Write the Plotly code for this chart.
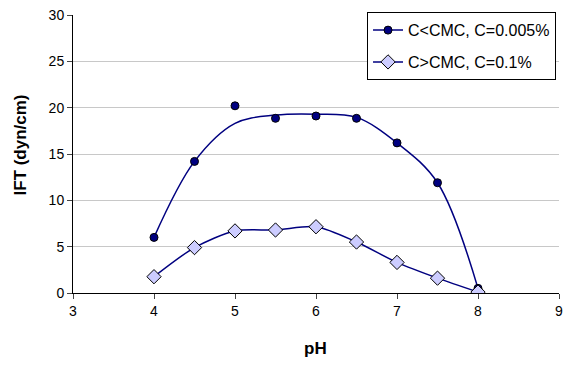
import plotly.graph_objects as go

ph = [4.0, 4.5, 5.0, 5.5, 6.0, 6.5, 7.0, 7.5, 8.0]
ift_low_c = [6.0, 14.2, 20.2, 18.85, 19.1, 18.85, 16.2, 11.9, 0.5]
# smoothed curve drawn for the low-concentration series
ift_low_c_curve = [6.0, 14.2, 18.3, 19.2, 19.3, 18.95, 16.2, 11.9, 0.5]
ift_high_c = [1.76, 4.9, 6.7, 6.8, 7.15, 5.5, 3.3, 1.6, 0.1]
name_low = "C<CMC, C=0.005%"
name_high = "C>CMC, C=0.1%"
x_ticks = [3, 4, 5, 6, 7, 8, 9]
y_ticks = [0, 5, 10, 15, 20, 25, 30]
x_title = "pH"
y_title = "IFT (dyn/cm)"

navy = "#000080"
font = "Liberation Sans, Arial, sans-serif"

fig = go.Figure()
# legend-only entry for the low-concentration series
fig.add_trace(go.Scatter(x=[None], y=[None], mode="lines+markers", name=name_low,
                         legendgroup="a",
                         line=dict(color=navy, width=1.5),
                         marker=dict(symbol="circle", size=8, color=navy,
                                     line=dict(color="black", width=1))))
fig.add_trace(go.Scatter(x=ph, y=ift_low_c_curve, mode="lines",
                         line=dict(color=navy, width=1.5, shape="spline", smoothing=1.0),
                         showlegend=False, legendgroup="a", hoverinfo="skip"))
fig.add_trace(go.Scatter(x=ph, y=ift_low_c, mode="markers", showlegend=False,
                         legendgroup="a",
                         marker=dict(symbol="circle", size=8, color=navy,
                                     line=dict(color="black", width=1))))
fig.add_trace(go.Scatter(x=ph, y=ift_high_c, mode="lines+markers", name=name_high,
                         legendgroup="b",
                         line=dict(color=navy, width=1.5, shape="spline", smoothing=0.8),
                         marker=dict(symbol="diamond", size=11, color="#CCCCFF",
                                     line=dict(color="black", width=1))))

fig.update_layout(
    width=563, height=365,
    margin=dict(l=73, r=4, t=15, b=72),
    paper_bgcolor="white", plot_bgcolor="white",
    font=dict(family=font, size=14, color="black"),
    legend=dict(x=0.605, xanchor="left", y=1.01, yanchor="top", traceorder="grouped",
                tracegroupgap=8,
                bordercolor="black", borderwidth=1, bgcolor="white",
                font=dict(size=16)),
    showlegend=True,
    annotations=[
        dict(text="<b>" + x_title + "</b>", xref="paper", yref="paper",
             x=0.499, y=-0.2014, xanchor="center", yanchor="middle",
             showarrow=False, font=dict(size=17)),
        dict(text="<b>" + y_title + "</b>", xref="paper", yref="paper",
             x=-0.107, y=0.534, xanchor="center", yanchor="middle", textangle=-90,
             showarrow=False, font=dict(size=17)),
    ],
)
fig.update_xaxes(range=[3, 9], tickvals=x_ticks, ticks="outside", ticklen=5,
                 ticklabeloverflow="allow", automargin=False,
                 showline=True, linecolor="black", linewidth=1, showgrid=False, zeroline=False)
fig.update_yaxes(range=[0, 30], tickvals=y_ticks, ticks="outside", ticklen=5,
                 automargin=False,
                 showline=True, linecolor="black", linewidth=1, showgrid=True,
                 gridcolor="#c8c8c8", zeroline=False)

fig.write_html("out.html")
